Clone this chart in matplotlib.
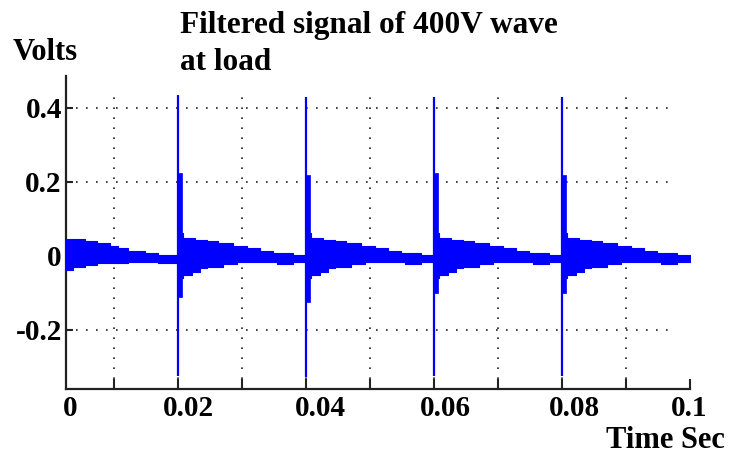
import numpy as np
import matplotlib
matplotlib.use('Agg')
import matplotlib.pyplot as plt

# spikes (switching instants)
spike_t = [0.02, 0.04, 0.06, 0.08]
spike_max = [0.435, 0.43, 0.43, 0.43]
spike_min = [-0.325, -0.327, -0.325, -0.325]
spike_mid_hi = [0.224, 0.22, 0.224, 0.22]
spike_mid_lo = [-0.11, -0.125, -0.1, -0.1]

# envelope of the ripple before the first spike
first_t = [0.0025, 0.0036, 0.0055, 0.0073, 0.0094, 0.0106, 0.0122, 0.0148, 0.0169]
first_hi = [0.046, 0.046, 0.041, 0.035, 0.027, 0.022, 0.014, 0.008, 0.003]
first_lo = [-0.038, -0.030, -0.024, -0.019, -0.019, -0.018, -0.016, -0.016, -0.020]

# envelope after each spike, time measured from the spike
decay_dt = [0.0, 0.0006, 0.0008, 0.0022, 0.0027, 0.0034, 0.0045, 0.0063,
            0.0070, 0.0086, 0.0092, 0.0108, 0.0128, 0.0148, 0.0155, 0.0180]
decay_hi = [0.06, 0.062, 0.049, 0.049, 0.043, 0.043, 0.041, 0.035,
            0.035, 0.027, 0.027, 0.022, 0.014, 0.008, 0.008, 0.003]
decay_lo = [-0.06, -0.06, -0.051, -0.043, -0.043, -0.032, -0.030, -0.030,
            -0.022, -0.022, -0.016, -0.016, -0.016, -0.016, -0.022, -0.017]

x_ticks = [0.01, 0.02, 0.03, 0.04, 0.05, 0.06, 0.07, 0.08, 0.09, 0.1]
x_labels = ['0', '0.02', '0.04', '0.06', '0.08', '0.1']
y_ticks = [-0.2, 0, 0.2, 0.4]
y_labels = ['-0.2', '0', '0.2', '0.4']

plt.rcParams['font.family'] = 'Liberation Serif'
plt.rcParams['font.weight'] = 'bold'

fig = plt.figure(figsize=(7.3, 4.62), dpi=100)
ax = fig.add_axes([0.0904, 0.158, 0.855, 0.6775])

blue = '#0000ff'

# build the stepped envelope
t_env = list(first_t)
hi_env = list(first_hi)
lo_env = list(first_lo)
for i in range(len(spike_t)):
    for j in range(len(decay_dt)):
        t_env.append(spike_t[i] + decay_dt[j])
        hi_env.append(decay_hi[j])
        lo_env.append(decay_lo[j])
t_env.append(0.1)
hi_env.append(0.0)
lo_env.append(-0.014)
t_env = np.array(t_env)
ax.fill_between(t_env, lo_env, hi_env, step='post', facecolor=blue,
                edgecolor=blue, lw=0.8, zorder=3)

# spikes
ax.vlines(spike_t, spike_min, spike_max, color=blue, lw=1.6, zorder=4)
for i in range(len(spike_t)):
    ax.fill_between([spike_t[i], spike_t[i] + 0.0006], spike_mid_lo[i], spike_mid_hi[i],
                    facecolor=blue, edgecolor=blue, lw=0.5, zorder=4)

# dotted grid
grid_style = dict(colors='#222222', linestyles=(0, (1, 5)), linewidth=1.2, zorder=2)
ax.vlines(x_ticks[:-1], -0.36, 0.432, **grid_style)
ax.hlines([-0.2, 0.2, 0.4], 0.0025, 0.0977, **grid_style)

ax.set_xlim(0.0025, 0.1)
ax.set_ylim(-0.36, 0.4865)

for s in ['top', 'right']:
    ax.spines[s].set_visible(False)
for s in ['left', 'bottom']:
    ax.spines[s].set_linewidth(1.6)
    ax.spines[s].set_color('#222222')

ax.set_xticks(x_ticks)
ax.set_xticklabels([''] * len(x_ticks))
ax.tick_params(axis='x', direction='in', length=7, width=1.5, color='#222222')
ax.set_yticks(y_ticks)
ax.set_yticklabels(y_labels, fontsize=21)
ax.tick_params(axis='y', direction='in', length=5, width=1.5, pad=3, color='#222222')

# x tick labels sit a little to the right of the ticks in the source
lab_pos = [0.0031, 0.0216, 0.0422, 0.0617, 0.082, 0.0998]
for p, lab in zip(lab_pos, x_labels):
    ax.text(p, -0.376, lab, ha='center', va='top', fontsize=21, clip_on=False)

fig.text(180 / 730, 1 - 25 / 462, 'Filtered signal of 400V wave', fontsize=22.5,
         ha='left', va='center')
fig.text(180 / 730, 1 - 63 / 462, 'at load', fontsize=22.5, ha='left', va='center')
fig.text(45 / 730, 1 - 53 / 462, 'Volts', fontsize=22, ha='center', va='center')
fig.text(665 / 730, 1 - 441 / 462, 'Time Sec', fontsize=22, ha='center', va='center')

fig.savefig('out.png', dpi=100)
